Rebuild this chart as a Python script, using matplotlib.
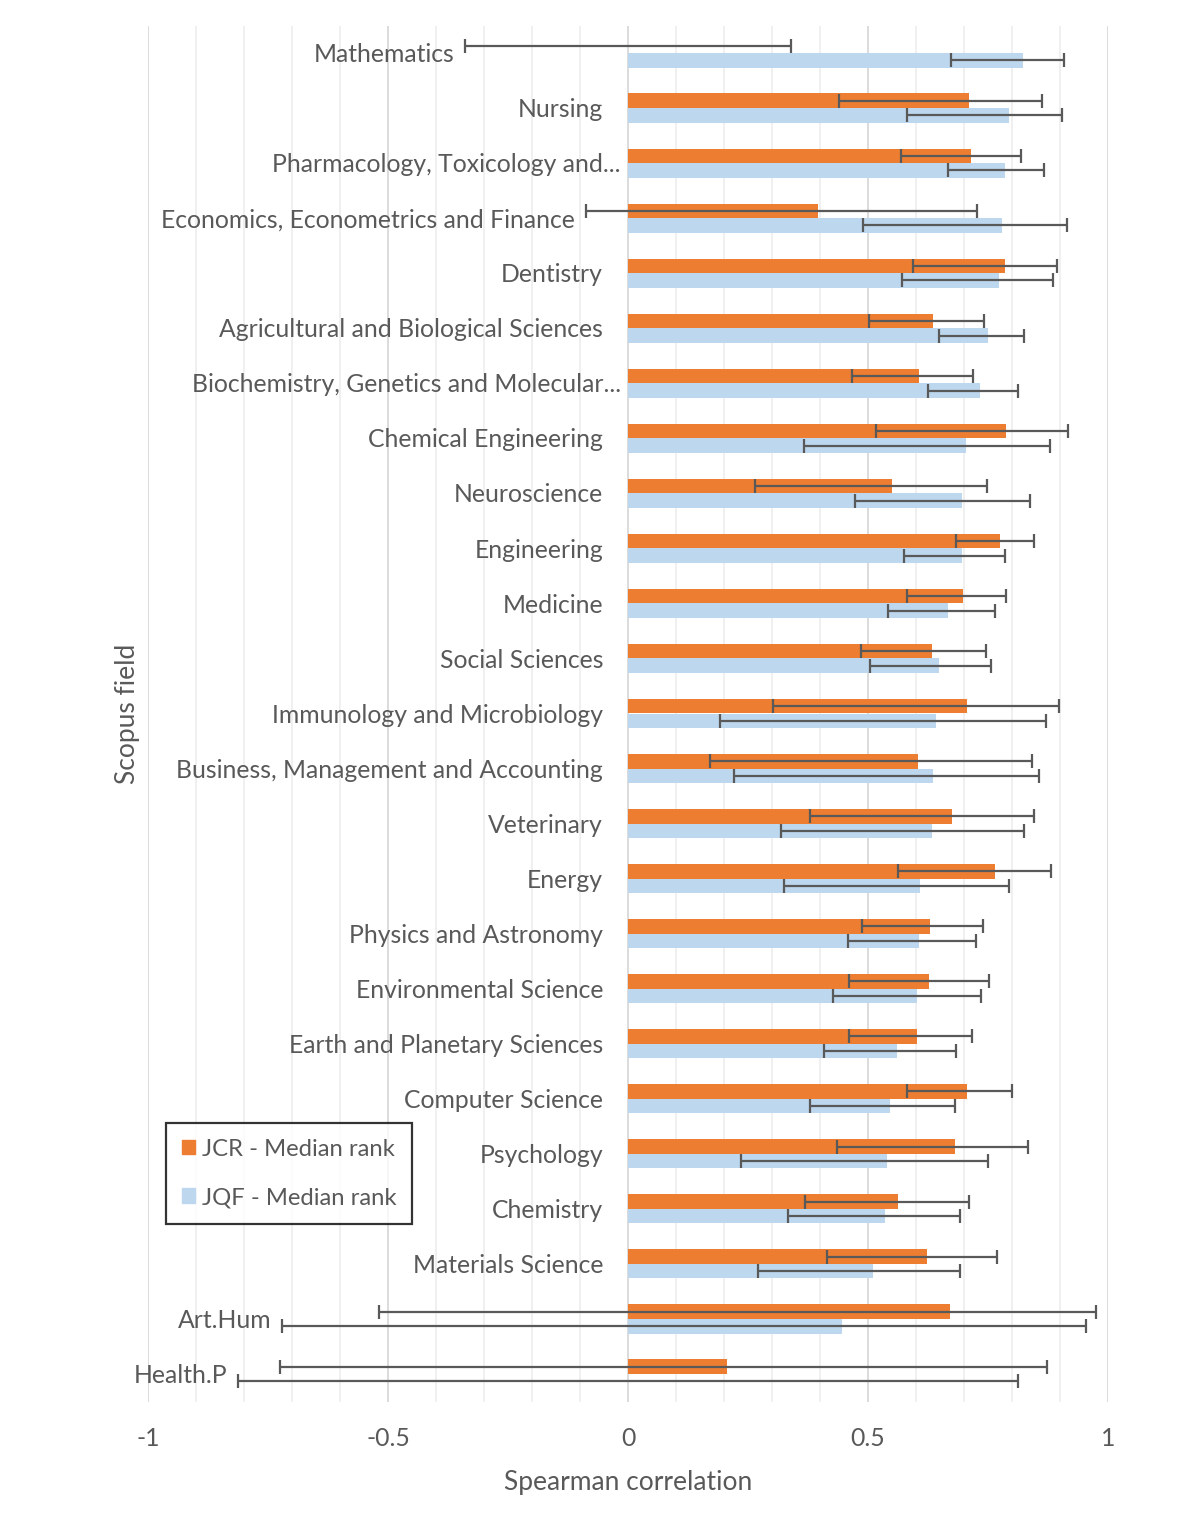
import numpy as np
import matplotlib.pyplot as plt
from matplotlib.patches import Patch

# Scopus fields, top to bottom
fields = [
    "Mathematics", "Nursing", "Pharmacology, Toxicology and...",
    "Economics, Econometrics and Finance", "Dentistry",
    "Agricultural and Biological Sciences", "Biochemistry, Genetics and Molecular...",
    "Chemical Engineering", "Neuroscience", "Engineering", "Medicine",
    "Social Sciences", "Immunology and Microbiology",
    "Business, Management and Accounting", "Veterinary", "Energy",
    "Physics and Astronomy", "Environmental Science",
    "Earth and Planetary Sciences", "Computer Science", "Psychology",
    "Chemistry", "Materials Science", "Art.Hum", "Health.P",
]

# JCR - median rank: correlation and CI bounds
jcr = [0.0, 0.711, 0.715, 0.395, 0.786, 0.636, 0.607, 0.788, 0.549, 0.776,
       0.698, 0.633, 0.707, 0.604, 0.674, 0.765, 0.630, 0.628, 0.602, 0.707,
       0.682, 0.563, 0.622, 0.671, 0.206]
jcr_lo = [-0.339, 0.439, 0.568, -0.088, 0.594, 0.502, 0.466, 0.516, 0.264, 0.684,
          0.581, 0.486, 0.302, 0.171, 0.379, 0.562, 0.487, 0.461, 0.460, 0.581,
          0.435, 0.368, 0.415, -0.519, -0.725]
jcr_hi = [0.339, 0.863, 0.819, 0.728, 0.893, 0.742, 0.719, 0.916, 0.748, 0.845,
          0.788, 0.746, 0.898, 0.842, 0.845, 0.882, 0.740, 0.753, 0.716, 0.800,
          0.834, 0.710, 0.769, 0.975, 0.872]

# JQF - median rank: correlation and CI bounds
jqf = [0.823, 0.794, 0.786, 0.779, 0.772, 0.749, 0.733, 0.705, 0.696, 0.695,
       0.667, 0.648, 0.642, 0.635, 0.634, 0.609, 0.607, 0.602, 0.560, 0.546,
       0.540, 0.536, 0.510, 0.446, 0.0]
jqf_lo = [0.672, 0.582, 0.667, 0.489, 0.570, 0.647, 0.626, 0.367, 0.472, 0.576,
          0.542, 0.505, 0.192, 0.221, 0.318, 0.324, 0.458, 0.428, 0.409, 0.379,
          0.235, 0.334, 0.271, -0.720, -0.813]
jqf_hi = [0.909, 0.905, 0.866, 0.914, 0.885, 0.825, 0.813, 0.880, 0.837, 0.785,
          0.765, 0.757, 0.870, 0.857, 0.825, 0.793, 0.724, 0.735, 0.683, 0.681,
          0.749, 0.691, 0.692, 0.954, 0.813]

ORANGE = "#ED7D31"
BLUE = "#BDD7EE"
TXT = "#595959"
ERR = "#595959"
FS = 17.8

plt.rcParams["font.family"] = ["Lato", "DejaVu Sans"]

fig = plt.figure(figsize=(12.01, 15.14), dpi=100)
ax = fig.add_axes([148 / 1201, 1 - 1401.5 / 1514, 960 / 1201, 1376 / 1514])

y = np.arange(len(fields))
h = 0.265
jcr, jqf = np.array(jcr), np.array(jqf)
jcr_err = [jcr - np.array(jcr_lo), np.array(jcr_hi) - jcr]
jqf_err = [jqf - np.array(jqf_lo), np.array(jqf_hi) - jqf]

ax.barh(y - h / 2, jcr, height=h, color=ORANGE, zorder=2)
ax.barh(y + h / 2, jqf, height=h, color=BLUE, zorder=2)
ax.errorbar(jcr, y - h / 2, xerr=jcr_err, fmt="none", ecolor=ERR,
            elinewidth=1.6, capsize=5.3, capthick=1.6, zorder=3)
ax.errorbar(jqf, y + h / 2, xerr=jqf_err, fmt="none", ecolor=ERR,
            elinewidth=1.6, capsize=5.3, capthick=1.6, zorder=3)

ax.set_xlim(-1, 1)
ax.set_ylim(len(fields) - 0.5, -0.5)

# gridlines: minor every 0.1, major every 0.5
for v in np.arange(-1, 1.001, 0.1):
    major = abs(v * 2 - round(v * 2)) < 1e-6
    ax.axvline(v, color="#d9d9d9" if major else "#efefef",
               lw=1.3, zorder=0)

for s in ax.spines.values():
    s.set_visible(False)
ax.set_yticks([])
ax.set_xticks([-1, -0.5, 0, 0.5, 1])
ax.set_xticklabels(["-1", "-0.5", "0", "0.5", "1"])
ax.tick_params(axis="x", length=0, pad=18, labelsize=FS, colors=TXT)

# category labels placed left of the axis (or left of a negative CI)
for i, name in enumerate(fields):
    left = min(0.0, jcr_lo[i], jqf_lo[i])
    xe = -0.052 if left == 0 else left - 0.022
    if name.endswith("..."):
        xe += 0.037
    ax.text(xe, i + 0.03, name, ha="right", va="center", fontsize=FS, color=TXT)

ax.set_xlabel("Spearman correlation", fontsize=19, color=TXT, labelpad=15)
fig.text(127 / 1201, 1 - 714 / 1514, "Scopus field", rotation=90,
         ha="center", va="center", fontsize=19, color=TXT)

handles = [Patch(color=ORANGE, label="JCR - Median rank"),
           Patch(color=BLUE, label="JQF - Median rank")]
leg = ax.legend(handles=handles, loc="upper left",
                bbox_to_anchor=(166 / 1201, 1 - 1123 / 1514),
                bbox_transform=fig.transFigure, fontsize=17.2,
                frameon=True, fancybox=False, edgecolor="black",
                handlelength=0.55, handleheight=0.55, handletextpad=0.3,
                labelspacing=1.15, borderpad=0.65, borderaxespad=0)
leg.get_frame().set_linewidth(1.6)
for t in leg.get_texts():
    t.set_color(TXT)

fig.savefig("out.png", dpi=100, facecolor="white")
